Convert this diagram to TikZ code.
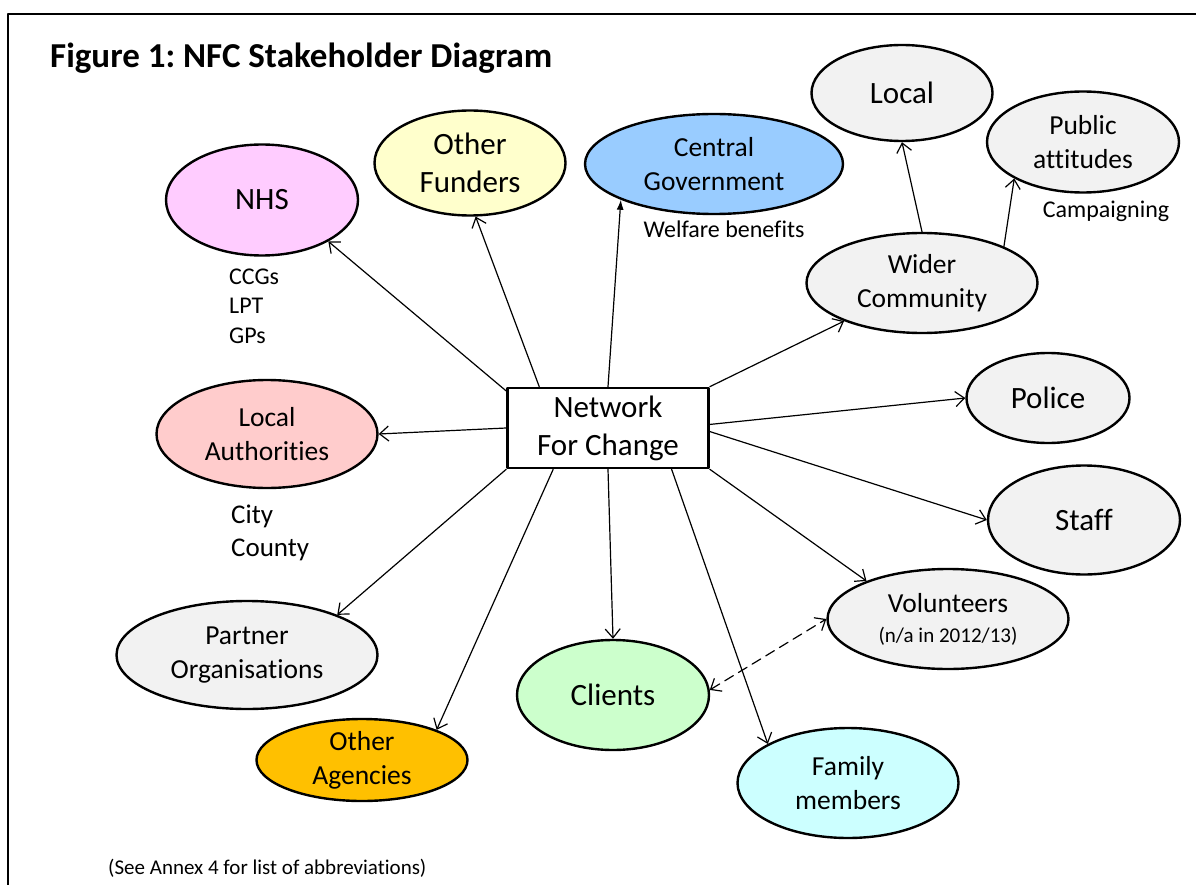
\documentclass[tikz,border=0pt]{standalone}
\usepackage{fontspec}
\setmainfont{Carlito}[Ligatures=NoCommon]
\usetikzlibrary{shapes.geometric,arrows.meta}
\definecolor{nhspink}{HTML}{FFCCFF}
\definecolor{funyellow}{HTML}{FFFFCC}
\definecolor{govblue}{HTML}{99CCFF}
\definecolor{lapink}{HTML}{FFCCCC}
\definecolor{clientgreen}{HTML}{CCFFCC}
\definecolor{famcyan}{HTML}{CCFFFF}
\definecolor{agencyorange}{HTML}{FFC000}
\definecolor{softgrey}{HTML}{F2F2F2}
\tikzset{barb/.tip={Straight Barb[length=9pt,width=15pt]}}
\frenchspacing
\begin{document}
\begin{tikzpicture}[x=1pt,y=-1pt,line cap=round,line join=round,
  party/.style={ellipse,draw,line width=2.4pt,inner sep=0pt,align=center,
                font=\fontsize{27.5}{34}\selectfont},
  big/.style={font=\fontsize{31}{38}\selectfont},
  note/.style={inner sep=0pt,align=left,font=\fontsize{24}{29.5}\selectfont},
  link/.style={-barb,line width=1.2pt}]
\useasboundingbox (0,0) rectangle (1196,885);
\draw[line width=2pt] (8,885) -- (8,14) -- (1196,14);
\node[anchor=base west,inner sep=0pt,font=\bfseries\fontsize{35}{42}\selectfont]
  (title) at (50,68) {Figure 1: NFC Stakeholder Diagram};
% the organisation in the middle
\node[draw,line width=2.6pt,minimum width=201,minimum height=80,inner sep=0pt,
  align=center,big] (nfc) at (608,428) {Network\\For Change};
% stakeholders
\node[party,big,fill=nhspink,minimum width=192,minimum height=111] (nhs) at (262,200) {NHS};
\node[party,big,fill=funyellow,minimum width=191,minimum height=105] (funders) at (470,163) {Other\\Funders};
\node[party,fill=govblue,minimum width=258,minimum height=100] (cgov) at (714,164) {Central\\Government};
\node[party,big,fill=softgrey,minimum width=181,minimum height=96] (local) at (902,93) {Local};
\node[party,fill=softgrey,minimum width=192,minimum height=101] (public) at (1083,142) {Public\\attitudes};
\node[party,fill=softgrey,minimum width=231,minimum height=100] (wider) at (922,283) {Wider\\Community};
\node[party,big,fill=softgrey,minimum width=163,minimum height=90] (police) at (1048,398) {Police};
\node[party,big,fill=softgrey,minimum width=192,minimum height=109] (staff) at (1084,520) {Staff};
\node[party,fill=softgrey,minimum width=241,minimum height=100] (vol) at (948,619)
  {Volunteers\\[-4pt]{\fontsize{21}{25}\selectfont(n/a in 2012/13)}};
\node[party,fill=famcyan,minimum width=221,minimum height=110] (family) at (848,783) {Family\\members};
\node[party,big,fill=clientgreen,minimum width=192,minimum height=110] (clients) at (613,695) {Clients};
\node[party,fill=agencyorange,minimum width=211,minimum height=82] (agencies) at (362,760) {Other\\Agencies};
\node[party,fill=softgrey,minimum width=261,minimum height=108] (partner) at (247,655) {Partner\\Organisations};
\node[party,fill=lapink,minimum width=221,minimum height=108] (la) at (267,434) {Local\\Authorities};
% notes beside the ellipses
\node[note,anchor=west] (nhsnote) at (229,306) {CCGs\\LPT\\GPs};
\node[note,anchor=west,font=\fontsize{27}{33}\selectfont] (lanote) at (231,533) {City\\County};
\node[note] (welfare) at (724,229) {Welfare benefits};
\node[note] (campaign) at (1106,211) {Campaigning};
\node[anchor=west,inner sep=0pt,font=\fontsize{21}{25}\selectfont] (annex) at (108,868)
  {(See Annex 4 for list of abbreviations)};
% connectors
\foreach \from/\to in {nfc.160/nhs.-32, nfc.149/funders.-84, nfc.north east/wider,
    nfc.2/police.west, nfc.-2/staff.west, nfc.south east/vol.155,
    nfc.-33/family.154, nfc.south/clients.north, nfc.217/agencies.22,
    nfc.south west/partner.24, nfc.west/la.east,
    wider.north/local.south, wider.24/public.208}
  \draw[link] (\from) -- (\to);
\draw[line width=1.2pt,-{Latex[length=10pt,width=7pt]}] (nfc.north) -- (cgov.201);
\draw[link,barb-barb,dash pattern=on 10pt off 6pt] (clients.3) -- (vol.west);
\end{tikzpicture}
\end{document}
